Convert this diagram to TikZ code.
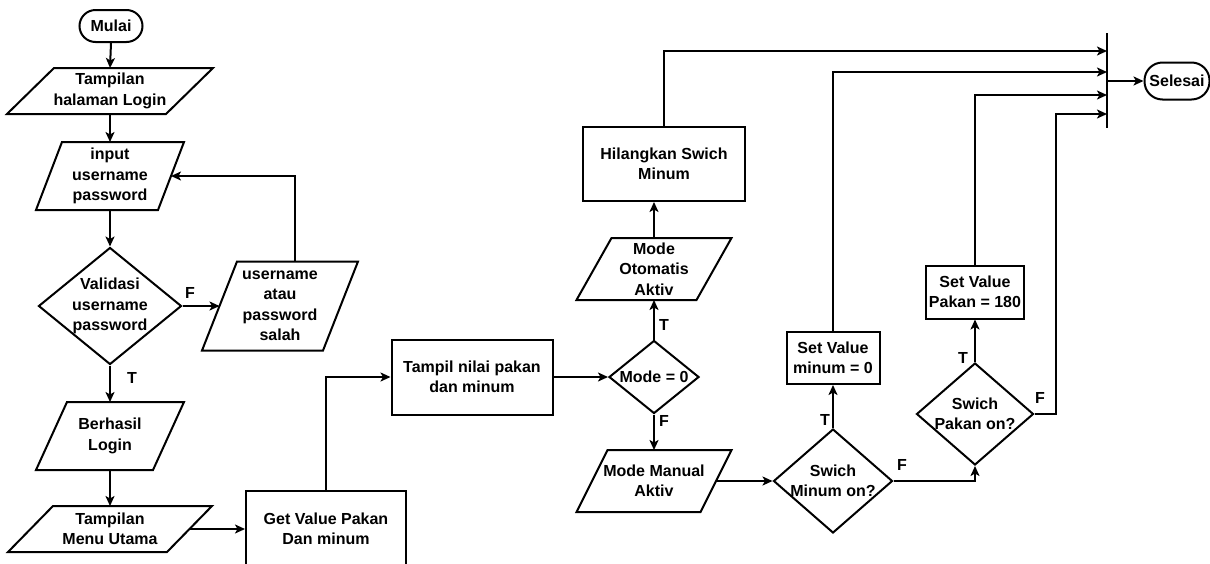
\documentclass[tikz,border=0pt]{standalone}
\usepackage{fontspec}
\setmainfont{Liberation Sans}
\usetikzlibrary{shapes.geometric, arrows.meta, calc}
\tikzset{
  base/.style={line width=2pt, font=\fontsize{16}{20.5}\selectfont\bfseries, align=center, inner sep=0pt},
  term/.style={base, draw, rectangle},
  proc/.style={base, draw, rectangle},
  io/.style={base, rectangle, draw=none},
  decision/.style={base, diamond, draw},
  lbl/.style={font=\fontsize{16}{20.5}\selectfont\bfseries, inner sep=0pt, align=center},
  ln/.style={line width=2pt, line join=miter},
  arr/.style={line width=2pt, -{Stealth[length=10pt,width=9pt,inset=2.5pt]}}
}
\newcommand\myparal[2]{\draw[ln] (#1.south west) -- ($(#1.north west)+(#2,0)$) -- (#1.north east) -- ($(#1.south east)-(#2,0)$) -- cycle;}
\begin{document}
\begin{tikzpicture}[x=1pt,y=-1pt]
\clip (0,0) rectangle (1210,563);
\fill[white] (0,0) rectangle (1210,563);
% nodes
\node[term, minimum width=63pt, minimum height=32pt, rounded corners=16pt] (mulai) at (111,26) {Mulai};
\node[io, minimum width=204pt, minimum height=44pt] (login) at (110,91) {Tampilan\\halaman Login};
\myparal{login}{47}
\node[io, minimum width=146pt, minimum height=66pt] (input) at (110,176) {input\\username\\password};
\myparal{input}{26}
\node[decision, minimum width=143pt, minimum height=117pt, label={[lbl]center:{Validasi\\username\\password}}] (valid) at (110,306) {};
\node[io, minimum width=154pt, minimum height=87pt] (salah) at (280,306) {username\\atau\\password\\salah};
\myparal{salah}{35}
\node[io, minimum width=146pt, minimum height=66pt] (berhasil) at (110,436) {Berhasil\\Login};
\myparal{berhasil}{31}
\node[io, minimum width=202pt, minimum height=44pt] (menu) at (110,529) {Tampilan\\Menu Utama};
\myparal{menu}{45}
\node[proc, minimum width=160pt, minimum height=76pt] (getval) at (326,529) {Get Value Pakan\\Dan minum};
\node[proc, minimum width=161pt, minimum height=75pt] (tampil) at (472,377) {Tampil nilai pakan\\dan minum};
\node[decision, minimum width=90pt, minimum height=73pt, label={[lbl]center:{Mode = 0}}] (mode) at (654,377) {};
\node[io, minimum width=153pt, minimum height=60pt] (otomatis) at (654,269) {Mode\\Otomatis\\Aktiv};
\myparal{otomatis}{35}
\node[proc, minimum width=162pt, minimum height=74pt] (hilang) at (664,164) {Hilangkan Swich\\Minum};
\node[io, minimum width=153pt, minimum height=60pt] (manual) at (654,481) {Mode Manual\\Aktiv};
\myparal{manual}{31}
\node[decision, minimum width=119pt, minimum height=104pt, label={[lbl]center:{Swich\\Minum on?}}] (smin) at (833,481) {};
\node[proc, minimum width=93pt, minimum height=52pt] (setmin) at (833,358) {Set Value\\minum = 0};
\node[decision, minimum width=117pt, minimum height=102pt, label={[lbl]center:{Swich\\Pakan on?}}] (spak) at (975,414) {};
\node[proc, minimum width=98pt, minimum height=53pt] (setpak) at (975,292) {Set Value\\Pakan = 180};
\node[term, minimum width=65pt, minimum height=37pt, rounded corners=18pt] (selesai) at (1177,81) {Selesai};
% bar
\coordinate (bartop) at (1107,33);
\coordinate (barbot) at (1107,128);
\coordinate (b1) at (1107,51);
\coordinate (b2) at (1107,72);
\coordinate (b3) at (1107,95);
\coordinate (b4) at (1107,114);
\coordinate (b0) at (1107,81);
\draw[ln] (bartop) -- (barbot);
% connectors
\draw[arr] (mulai.south) -- (login.north);
\draw[arr] (login.south) -- (input.north);
\draw[arr] (input.south) -- (valid.north);
\draw[arr] (valid.east) -- ($(salah.west)+(17.5,0)$);
\draw[arr] ($(salah.north)+(15,0)$) |- ($(input.east)-(13,0)$);
\draw[arr] (valid.south) -- (berhasil.north);
\draw[arr] (berhasil.south) -- (menu.north);
\draw[arr] ($(menu.east)-(22.5,0)$) -- (getval.west);
\draw[arr] (getval.north) |- (tampil.west);
\draw[arr] (tampil.east) -- (mode.west);
\draw[arr] (mode.north) -- (otomatis.south);
\draw[arr] (otomatis.north) -- (otomatis.north |- hilang.south);
\draw[arr] (hilang.north) |- (b1);
\draw[arr] (mode.south) -- (manual.north);
\draw[arr] ($(manual.east)-(15.5,0)$) -- (smin.west);
\draw[arr] (smin.north) -- (setmin.south);
\draw[arr] (setmin.north) |- (b2);
\draw[arr] (smin.east) -| (spak.south);
\draw[arr] (spak.north) -- (setpak.south);
\draw[arr] (setpak.north) |- (b3);
\draw[arr] (spak.east) -- ++(21.5,0) |- (b4);
\draw[arr] (b0) -- (selesai.west);
% labels
\node[lbl] (fv) at (190,293) {F};
\node[lbl] (tv) at (132,378) {T};
\node[lbl] (tm) at (664,325) {T};
\node[lbl] (fm) at (664,421) {F};
\node[lbl] (tsm) at (825,420) {T};
\node[lbl] (fsm) at (902,465) {F};
\node[lbl] (tsp) at (963,358) {T};
\node[lbl] (fsp) at (1040,398) {F};
\end{tikzpicture}
\end{document}
